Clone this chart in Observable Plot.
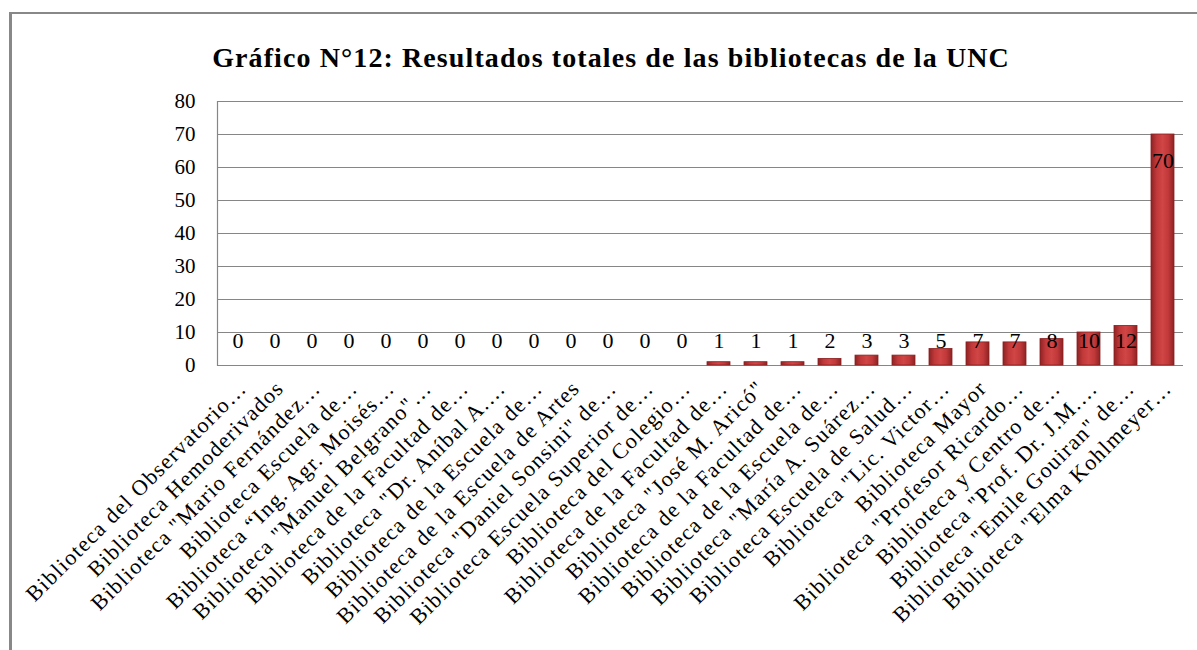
<!DOCTYPE html>
<html>
<head>
<meta charset="utf-8">
<script src="https://cdn.jsdelivr.net/npm/d3@7"></script>
<script src="https://cdn.jsdelivr.net/npm/@observablehq/plot@0.6"></script>
<style>
  html, body { margin: 0; padding: 0; background: #fff; }
  #wrap { position: relative; width: 1197px; height: 650px; overflow: hidden; background: #fff; }
  #frameTop { position: absolute; z-index: 5; left: 9px; top: 12px; width: 1188px; height: 0; border-top: 2px solid #888; }
  #frameLeft { position: absolute; z-index: 5; left: 9px; top: 12px; width: 0; height: 638px; border-left: 3px solid #888; }
  #title { position: absolute; left: 0; top: 42px; width: 1222px; text-align: center; line-height: 32px;
           font-family: "Liberation Serif", "Times New Roman", serif; font-weight: bold; font-size: 28px;
           letter-spacing: 1.1px; color: #000; }
  #chart { position: absolute; left: 0; top: 80px; }
  #chart svg { font-family: "Liberation Serif", "Times New Roman", serif; }
  #chart svg g.catlabels text { letter-spacing: 1.3px; }
</style>
</head>
<body>
<div id="wrap">
  <div id="frameTop"></div>
  <div id="frameLeft"></div>
  <div id="title">Gráfico N°12: Resultados totales de las bibliotecas de la UNC</div>
  <div id="chart"></div>
</div>
<script>
const categories = [
  "Biblioteca del Observatorio…",
  "Biblioteca Hemoderivados",
  "Biblioteca \"Mario Fernández…",
  "Biblioteca Escuela de…",
  "Biblioteca “Ing. Agr. Moisés…",
  "Biblioteca \"Manuel Belgrano\"…",
  "Biblioteca de la Facultad de…",
  "Biblioteca \"Dr. Aníbal A.…",
  "Biblioteca de la Escuela de…",
  "Biblioteca de la Escuela de Artes",
  "Biblioteca \"Daniel Sonsini\" de…",
  "Biblioteca Escuela Superior de…",
  "Biblioteca del Colegio…",
  "Biblioteca de la Facultad de…",
  "Biblioteca \"José M. Aricó\"",
  "Biblioteca de la Facultad de…",
  "Biblioteca de la Escuela de…",
  "Biblioteca \"María A. Suárez…",
  "Biblioteca Escuela de Salud…",
  "Biblioteca \"Lic. Victor…",
  "Biblioteca Mayor",
  "Biblioteca \"Profesor Ricardo…",
  "Biblioteca y Centro de…",
  "Biblioteca \"Prof. Dr. J.M.…",
  "Biblioteca \"Emile Gouiran\" de…",
  "Biblioteca \"Elma Kohlmeyer…"
];
const values = [0,0,0,0,0,0,0,0,0,0,0,0,0,1,1,1,2,3,3,5,7,7,8,10,12,70];
const yTicks = [0,10,20,30,40,50,60,70,80];

const data = categories.map((c, i) => ({i, c, v: values[i]}));

const chart = Plot.plot({
  width: 1197,
  height: 570,
  marginTop: 21,
  marginBottom: 285,
  marginLeft: 217,
  marginRight: 14,
  style: {fontFamily: "Liberation Serif, Times New Roman, serif", background: "transparent", color: "#000"},
  x: {domain: d3.range(categories.length), paddingInner: 0.37, paddingOuter: 0.185, label: null, axis: null},
  y: {domain: [0, 80], ticks: yTicks, label: null},
  marks: [
    Plot.ruleY(yTicks.filter(t => t > 0), {stroke: "#868686", strokeWidth: 1.2, strokeOpacity: 1}),
    Plot.ruleY([0], {stroke: "#868686", strokeWidth: 1.2, strokeOpacity: 1}),
    Plot.frame({anchor: "left", stroke: "#868686", strokeWidth: 1.2}),
    Plot.barY(data, {x: "i", y: "v", fill: "url(#barGrad)", stroke: "#8a1f20", strokeWidth: 0.8}),
    Plot.text(data.filter(d => d.v <= 12), {x: "i", y: 0, text: d => String(d.v), dy: -25, fontSize: 22, fill: "#000"}),
    Plot.text(data.filter(d => d.v > 12), {x: "i", y: "v", text: d => String(d.v), dy: 26, fontSize: 22, fill: "#000"}),
    Plot.axisY({ticks: yTicks, tickSize: 0, tickPadding: 22, fontSize: 21, label: null}),
    Plot.text(data, {x: "i", y: 0, text: "c", rotate: -45, textAnchor: "end", lineAnchor: "bottom",
                     dx: 10, dy: 24, fontSize: 22, fill: "#000", className: "catlabels"})
  ]
});

const ns = "http://www.w3.org/2000/svg";
const defs = document.createElementNS(ns, "defs");
defs.innerHTML = `
  <linearGradient id="barGrad" x1="0" x2="1" y1="0" y2="0">
    <stop offset="0%" stop-color="#8e2224"/>
    <stop offset="25%" stop-color="#c2393a"/>
    <stop offset="50%" stop-color="#d04546"/>
    <stop offset="75%" stop-color="#c2393a"/>
    <stop offset="100%" stop-color="#8e2224"/>
  </linearGradient>`;
chart.insertBefore(defs, chart.firstChild);
document.getElementById("chart").appendChild(chart);
</script>
</body>
</html>
